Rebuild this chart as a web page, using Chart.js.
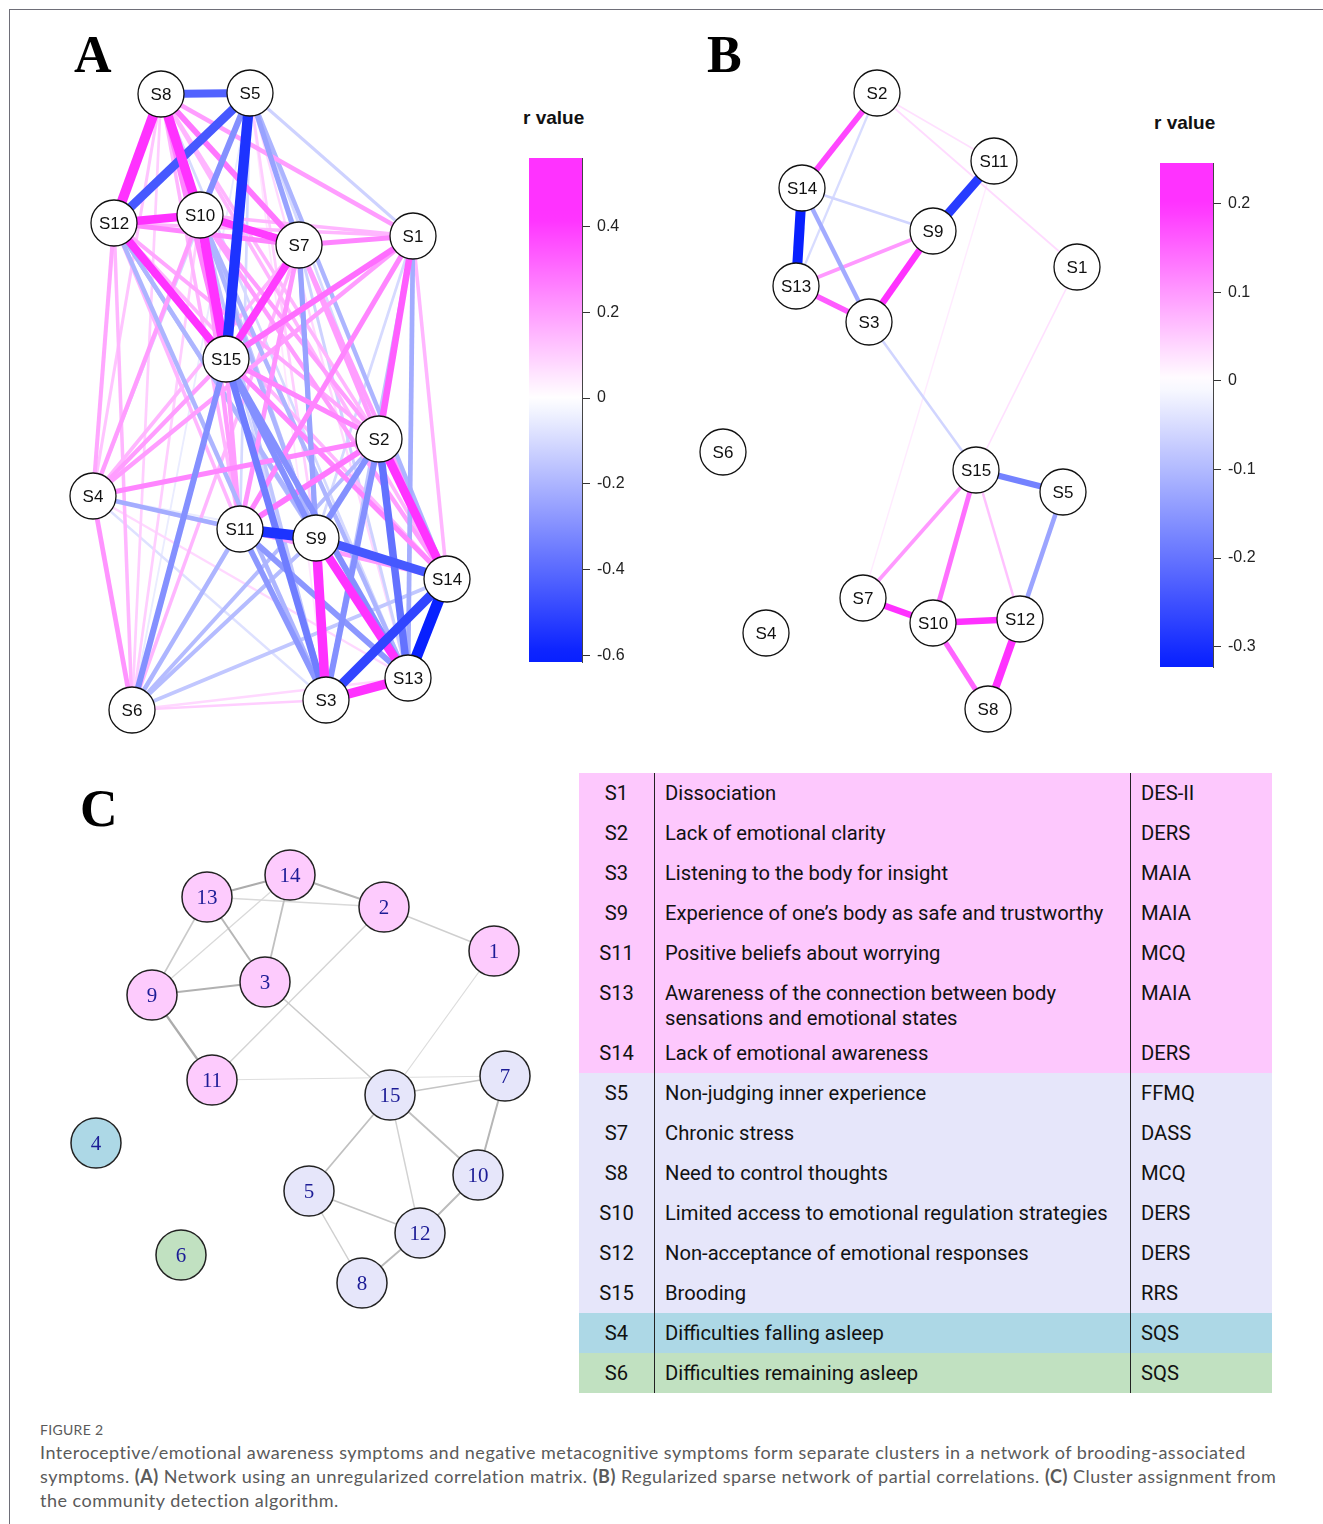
<!DOCTYPE html>
<html lang="en">
<head>
<meta charset="UTF-8">
<title>Figure 2 - brooding symptom networks</title>
<script src="https://cdn.jsdelivr.net/npm/chart.js@4"></script>
<style>
  body { margin: 0; background: #fff; }
  #page { position: relative; width: 1323px; height: 1524px; overflow: hidden; background: #fff; }
  .frame { position: absolute; left: 9px; top: 9px; right: -5px; bottom: -5px; border-top: 1.5px solid #6e6e78; border-left: 1.5px solid #6e6e78; }
  canvas { position: absolute; }
  .letter { position: absolute; font-family: "Liberation Serif", serif; font-weight: bold; font-size: 52px; line-height: 1; color: #000; }
  .rtitle { position: absolute; font-family: "Liberation Sans", Arial, sans-serif; font-weight: bold; font-size: 19px; color: #111; }
  table { position: absolute; left: 579px; top: 773px; width: 693px; border-collapse: collapse; font-family: Roboto, sans-serif; font-size: 20.2px; color: #111; }
  td { padding: 8px 0 0 0; vertical-align: top; line-height: 25px; height: 32px; white-space: nowrap; }
  td.id { width: 75px; text-align: center; border-right: 1.5px solid #222; }
  td.txt { width: 465px; padding-left: 10px; border-right: 1.5px solid #222; }
  td.sc { padding-left: 10px; }
  tr.tall td { height: 52px; }
  tr.c1 { background: #fdc8fd; }
  tr.c2 { background: #e6e6fa; }
  tr.c3 { background: #add8e6; }
  tr.c4 { background: #c1e1c1; }
  .cap { position: absolute; left: 40px; font-family: Lato, sans-serif; color: #5a5a5a; white-space: nowrap; }
  .fig { top: 1421px; font-size: 14px; letter-spacing: 0.3px; }
  .body { top: 1440px; font-size: 18px; line-height: 24px; letter-spacing: 0.5px; }
</style>
</head>
<body>
<div id="page">
  <div class="frame"></div>
  <div class="letter" style="left:74px;top:29px">A</div>
  <div class="letter" style="left:707px;top:29px">B</div>
  <div class="letter" style="left:80px;top:783px">C</div>
  <div class="rtitle" style="left:523px;top:107px">r value</div>
  <div class="rtitle" style="left:1154px;top:112px">r value</div>

  <canvas id="netA" width="430" height="690" style="left:60px;top:60px"></canvas>
  <canvas id="barA" width="110" height="520" style="left:529px;top:150px"></canvas>
  <canvas id="netB" width="430" height="690" style="left:690px;top:60px"></canvas>
  <canvas id="barB" width="110" height="520" style="left:1160px;top:155px"></canvas>
  <canvas id="netC" width="500" height="480" style="left:60px;top:840px"></canvas>

  <table id="legend"></table>

  <div class="cap fig">FIGURE 2</div>
  <div class="cap body">Interoceptive/emotional awareness symptoms and negative metacognitive symptoms form separate clusters in a network of brooding-associated<br>symptoms. <b>(A)</b> Network using an unregularized correlation matrix. <b>(B)</b> Regularized sparse network of partial correlations. <b>(C)</b> Cluster assignment from<br>the community detection algorithm.</div>
</div>

<script>
// symptom labels, S1..S15
const nodeNames = ['S1','S2','S3','S4','S5','S6','S7','S8','S9','S10','S11','S12','S13','S14','S15'];

// panel A layout (page px)
const aX = [413, 379, 326, 93, 250, 132, 299, 161, 316, 200, 240, 114, 408, 447, 226];
const aY = [236, 439, 700, 496, 93, 710, 245, 94, 538, 215, 529, 223, 678, 579, 359];

// panel A: unregularized correlations [from, to, r]
const aEdges = [
  [1,2,0.33],[1,3,-0.15],[1,4,0.2],[1,5,-0.12],[1,6,0.1],[1,7,0.25],[1,8,0.2],[1,9,-0.1],
  [1,10,0.15],[1,11,0.25],[1,12,0.15],[1,13,-0.22],[1,14,0.15],[1,15,0.3],
  [2,3,-0.3],[2,4,0.25],[2,5,-0.1],[2,6,-0.18],[2,7,0.2],[2,8,0.15],[2,9,-0.3],[2,10,0.2],
  [2,11,0.28],[2,12,0.18],[2,13,-0.38],[2,14,0.45],[2,15,0.25],
  [3,4,-0.08],[3,5,0.05],[3,6,0.1],[3,7,-0.25],[3,8,-0.1],[3,9,0.5],[3,10,-0.15],[3,11,-0.28],
  [3,12,-0.2],[3,13,0.5],[3,14,-0.5],[3,15,-0.35],
  [4,5,-0.1],[4,6,0.22],[4,7,0.15],[4,8,0.12],[4,9,-0.05],[4,10,0.2],[4,11,-0.22],[4,12,0.18],
  [4,13,0.08],[4,14,0.1],[4,15,0.2],
  [5,6,-0.05],[5,7,-0.25],[5,8,-0.42],[5,9,0.1],[5,10,-0.3],[5,11,-0.1],[5,12,-0.45],[5,13,0.08],
  [5,14,-0.2],[5,15,-0.55],
  [6,7,0.15],[6,8,0.1],[6,9,-0.18],[6,10,0.1],[6,11,-0.2],[6,12,0.15],[6,13,0.08],[6,14,-0.15],[6,15,-0.3],
  [7,8,0.28],[7,9,-0.2],[7,10,0.4],[7,11,0.22],[7,12,0.25],[7,13,-0.12],[7,14,0.2],[7,15,0.4],
  [8,9,-0.15],[8,10,0.5],[8,11,0.15],[8,12,0.52],[8,13,-0.1],[8,14,0.15],[8,15,0.25],
  [9,10,-0.2],[9,11,-0.55],[9,12,-0.18],[9,13,0.45],[9,14,-0.45],[9,15,-0.3],
  [10,11,0.2],[10,12,0.45],[10,13,-0.2],[10,14,0.2],[10,15,0.5],
  [11,12,0.15],[11,13,-0.28],[11,14,0.2],[11,15,0.2],
  [12,13,-0.2],[12,14,0.15],[12,15,0.42],
  [13,14,-0.6],[13,15,-0.3],
  [14,15,0.25]
];

// panel B layout
const bX = [1077, 877, 869, 766, 1063, 723, 863, 988, 933, 933, 994, 1020, 796, 802, 976];
const bY = [267, 93, 322, 633, 492, 452, 598, 709, 231, 623, 161, 619, 286, 188, 470];

// panel B: regularized partial correlations
const bEdges = [
  [2,14,0.18],[2,13,-0.05],[2,11,0.03],[2,1,0.035],[11,9,-0.28],[11,7,0.02],
  [14,13,-0.32],[14,9,-0.06],[14,3,-0.12],[13,9,0.1],[13,3,0.16],[9,3,0.2],
  [3,15,-0.06],[1,15,0.03],[15,5,-0.18],[15,7,0.1],[15,10,0.14],[15,12,0.06],
  [5,12,-0.13],[7,10,0.2],[10,12,0.2],[10,8,0.15],[12,8,0.24]
];

// panel C layout and clusters
const cX = [494, 384, 265, 96, 309, 181, 505, 362, 152, 478, 212, 420, 207, 290, 390];
const cY = [951, 907, 982, 1143, 1191, 1255, 1076, 1283, 995, 1175, 1080, 1233, 897, 875, 1095];
const cCluster = [1, 1, 1, 3, 2, 4, 2, 2, 1, 2, 1, 2, 1, 1, 2];
const clusterColors = ['#fdcbfd', '#e6e6fa', '#add8e6', '#c1e1c1'];

// panel C edges [from, to, weight]
const cEdges = [
  [13,14,0.6],[14,2,0.5],[13,2,0.15],[14,9,0.15],[14,3,0.4],[13,9,0.3],[13,3,0.5],[9,3,0.55],
  [9,11,0.6],[2,1,0.25],[2,11,0.2],[3,15,0.3],[1,15,0.12],[11,7,0.1],[15,7,0.35],[7,10,0.5],
  [15,10,0.4],[15,5,0.4],[15,12,0.22],[5,12,0.35],[5,8,0.25],[10,12,0.45],[12,8,0.45]
];

// colour bar ticks
const aTicks = [0.4, 0.2, 0, -0.2, -0.4, -0.6];
const bTicks = [0.2, 0.1, 0, -0.1, -0.2, -0.3];

// table rows: id, description, scale, cluster
const tableIds = ['S1','S2','S3','S9','S11','S13','S14','S5','S7','S8','S10','S12','S15','S4','S6'];
const tableText = ['Dissociation','Lack of emotional clarity','Listening to the body for insight',
  'Experience of one\u2019s body as safe and trustworthy','Positive beliefs about worrying',
  'Awareness of the connection between body<br>sensations and emotional states','Lack of emotional awareness',
  'Non-judging inner experience','Chronic stress','Need to control thoughts',
  'Limited access to emotional regulation strategies','Non-acceptance of emotional responses','Brooding',
  'Difficulties falling asleep','Difficulties remaining asleep'];
const tableScale = ['DES-II','DERS','MAIA','MAIA','MCQ','MAIA','DERS','FFMQ','DASS','MCQ','DERS','DERS','RRS','SQS','SQS'];
const tableCluster = [1,1,1,1,1,1,1,2,2,2,2,2,2,3,4];

document.getElementById('legend').innerHTML = tableIds.map((id, i) =>
  `<tr class="c${tableCluster[i]}${id === 'S13' ? ' tall' : ''}"><td class="id">${id}</td><td class="txt">${tableText[i]}</td><td class="sc">${tableScale[i]}</td></tr>`
).join('');

function ramp(r, posMax, negMax) {
  const end = r >= 0 ? [255, 50, 255] : [8, 32, 255];
  const t = Math.min(1, Math.abs(r) / (r >= 0 ? posMax : negMax));
  const c = [255, 255, 255].map((w, k) => Math.round(w + (end[k] - w) * t));
  return 'rgb(' + c.join(',') + ')';
}
const colorA = r => ramp(r, 0.42, 0.6);
const colorB = r => ramp(r, 0.2, 0.32);

const nodePlugin = {
  id: 'nodes',
  afterDatasetsDraw(chart, args, o) {
    const ctx = chart.ctx;
    const meta = chart.getDatasetMeta(0);
    ctx.save();
    meta.data.forEach((pt, i) => {
      ctx.beginPath();
      ctx.arc(pt.x, pt.y, o.r, 0, Math.PI * 2);
      ctx.fillStyle = o.fill ? o.fill[i] : '#fff';
      ctx.fill();
      ctx.lineWidth = o.lw;
      ctx.strokeStyle = o.stroke;
      ctx.stroke();
      ctx.fillStyle = o.color;
      ctx.font = o.font;
      ctx.textAlign = 'center';
      ctx.textBaseline = 'middle';
      ctx.fillText(o.labels[i], pt.x, pt.y + 1);
    });
    ctx.restore();
  }
};

function network(id, xs, ys, edges, colorFn, widthFn, box, nodeOpts) {
  const order = edges.slice().sort((p, q) => Math.abs(q[2]) - Math.abs(p[2]));
  const datasets = [{
    data: xs.map((x, i) => ({ x: x, y: ys[i] })),
    pointRadius: 0, showLine: false
  }].concat(order.map(e => ({
    data: [{ x: xs[e[0] - 1], y: ys[e[0] - 1] }, { x: xs[e[1] - 1], y: ys[e[1] - 1] }],
    showLine: true, pointRadius: 0, borderColor: colorFn(e[2]), borderWidth: widthFn(e[2]),
    borderCapStyle: 'butt'
  })));
  new Chart(document.getElementById(id), {
    type: 'scatter',
    data: { datasets: datasets },
    options: {
      responsive: false, animation: false,
      events: [],
      plugins: { legend: { display: false }, tooltip: { enabled: false }, nodes: nodeOpts },
      scales: {
        x: { display: false, min: box[0], max: box[0] + box[2] },
        y: { display: false, min: box[1], max: box[1] + box[3], reverse: true }
      }
    },
    plugins: [nodePlugin]
  });
}

network('netA', aX, aY, aEdges, colorA, r => 1 + Math.abs(r) * 17, [60, 60, 430, 690],
  { r: 23, lw: 1.3, stroke: '#111', color: '#111', font: '17px "Liberation Sans", Arial, sans-serif', labels: nodeNames });
network('netB', bX, bY, bEdges, colorB, r => 0.8 + Math.abs(r) * 29, [690, 60, 430, 690],
  { r: 23, lw: 1.3, stroke: '#111', color: '#111', font: '17px "Liberation Sans", Arial, sans-serif', labels: nodeNames });
network('netC', cX, cY, cEdges, w => { const g = Math.round(232 - 100 * w); return `rgb(${g},${g},${g})`; },
  w => 1 + w * 2, [60, 840, 500, 480],
  { r: 25, lw: 1.5, stroke: '#222', color: '#1c1c96', font: '21px "Liberation Serif", serif',
    labels: nodeNames.map(n => n.slice(1)), fill: cCluster.map(c => clusterColors[c - 1]) });

function colorBar(id, lo, hi, ticks, colorFn) {
  new Chart(document.getElementById(id), {
    type: 'bar',
    data: {
      labels: ['r'],
      datasets: [{
        data: [[lo, hi]],
        barPercentage: 1, categoryPercentage: 1, borderWidth: 0,
        backgroundColor: c => {
          const ch = c.chart;
          if (!ch.chartArea) return '#fff';
          const ys = ch.scales.y;
          const g = ch.ctx.createLinearGradient(0, ys.getPixelForValue(hi), 0, ys.getPixelForValue(lo));
          for (let k = 0; k <= 40; k++) g.addColorStop(k / 40, colorFn(hi - (hi - lo) * k / 40));
          return g;
        }
      }]
    },
    options: {
      responsive: false, animation: false, events: [],
      layout: { padding: { top: 8, bottom: 8 } },
      plugins: { legend: { display: false }, tooltip: { enabled: false } },
      scales: {
        x: { display: false },
        y: {
          position: 'right', min: lo, max: hi,
          afterBuildTicks: s => { s.ticks = ticks.map(v => ({ value: v })); },
          afterFit: s => { s.width = 57; s.paddingTop = 0; s.paddingBottom = 0; },
          grid: { drawOnChartArea: false, tickLength: 8, color: '#333', lineWidth: 1 },
          border: { display: true, color: '#444', width: 1 },
          ticks: { color: '#222', padding: 7, font: { family: '"Liberation Sans", Arial, sans-serif', size: 16 },
                   callback: v => String(Math.round(v * 10) / 10) }
        }
      }
    }
  });
}
colorBar('barA', -0.616, 0.56, aTicks, colorA);
colorBar('barB', -0.323, 0.246, bTicks, colorB);
</script>
</body>
</html>
